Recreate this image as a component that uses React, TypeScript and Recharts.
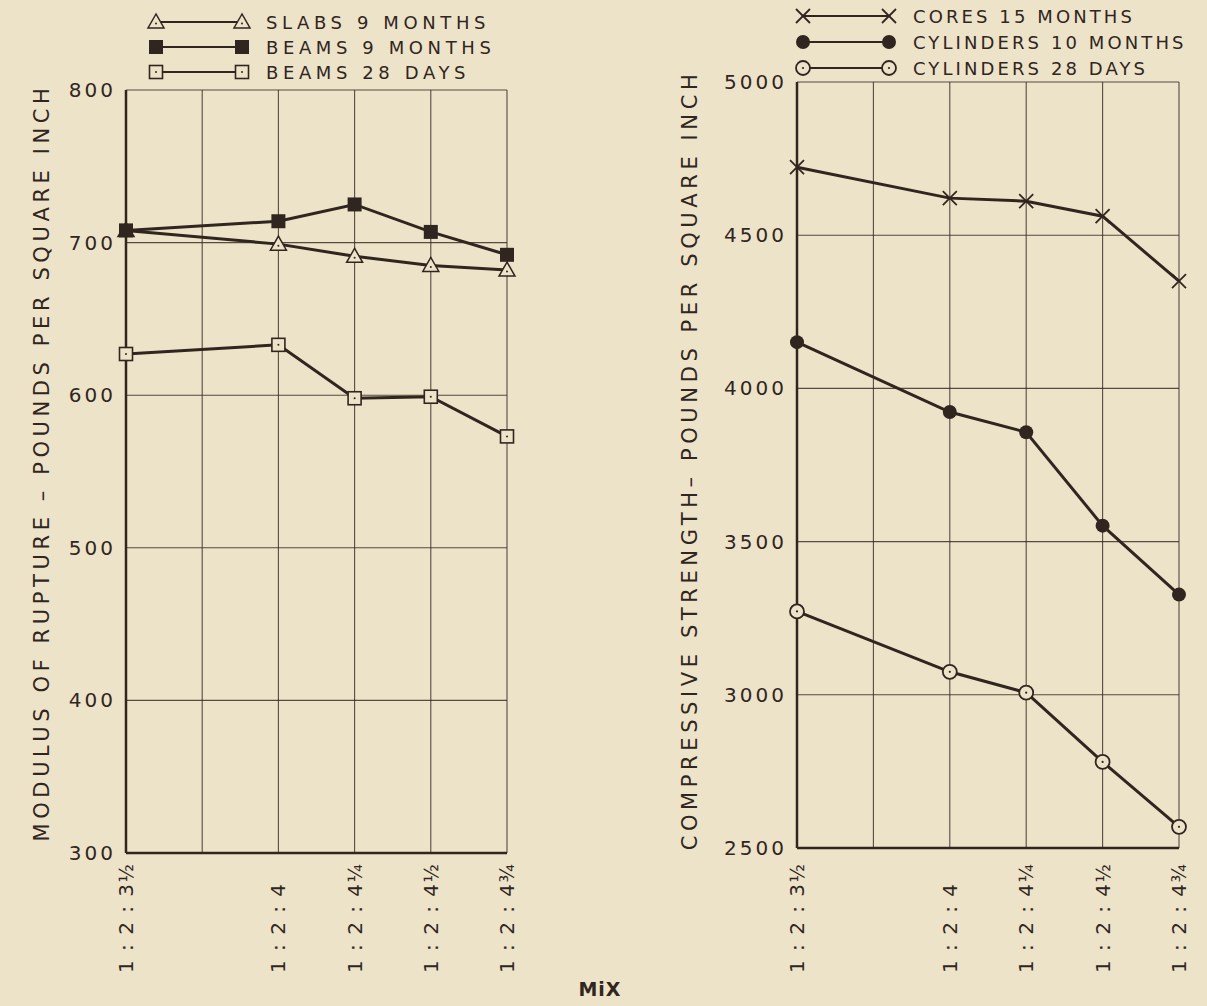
import { CartesianGrid, Line, LineChart, XAxis, YAxis } from 'recharts'

// mix proportions (1 : 2 : x) and their labels
const mixValues = [3.5, 4, 4.25, 4.5, 4.75]
const mixGrid = [3.5, 3.75, 4, 4.25, 4.5, 4.75]
const mixLabels: Record<number, [string, string]> = {
  3.5: ['1 : 2 : 3', '½'],
  4: ['1 : 2 : 4', ''],
  4.25: ['1 : 2 : 4', '¼'],
  4.5: ['1 : 2 : 4', '½'],
  4.75: ['1 : 2 : 4', '¾'],
}

// modulus of rupture, psi
const slabs9Months = [708, 699, 691, 685, 682]
const beams9Months = [708, 714, 725, 707, 692]
const beams28Days = [627, 633, 598, 599, 573]
const ruptureTicks = [300, 400, 500, 600, 700, 800]

// compressive strength, psi
const cores15Months = [4722, 4621, 4611, 4562, 4350]
const cylinders10Months = [4151, 3923, 3857, 3552, 3327]
const cylinders28Days = [3272, 3075, 3007, 2781, 2569]
const strengthTicks = [2500, 3000, 3500, 4000, 4500, 5000]

const BG = '#ede3c9'
const INK = '#30261f'
const FONT = '"DejaVu Sans", "Liberation Sans", sans-serif'

const ruptureData = mixValues.map((mix, i) => ({
  mix,
  slabs9: slabs9Months[i],
  beams9: beams9Months[i],
  beams28: beams28Days[i],
}))

const strengthData = mixValues.map((mix, i) => ({
  mix,
  cores15: cores15Months[i],
  cyl10: cylinders10Months[i],
  cyl28: cylinders28Days[i],
}))

type MarkerKind = 'triangle' | 'squareFilled' | 'squareOpen' | 'cross' | 'circleFilled' | 'circleOpen'

const Marker = ({ kind, cx, cy }: { kind: MarkerKind; cx: number; cy: number }) => {
  switch (kind) {
    case 'triangle':
      return (
        <g>
          <polygon
            points={`${cx},${cy - 8} ${cx - 8},${cy + 6} ${cx + 8},${cy + 6}`}
            fill={BG}
            stroke={INK}
            strokeWidth={1.5}
          />
          <circle cx={cx} cy={cy + 1.5} r={1} fill={INK} />
        </g>
      )
    case 'squareFilled':
      return <rect x={cx - 7} y={cy - 7} width={14} height={14} fill={INK} />
    case 'squareOpen':
      return (
        <g>
          <rect x={cx - 6.5} y={cy - 6.5} width={13} height={13} fill={BG} stroke={INK} strokeWidth={1.6} />
          <circle cx={cx} cy={cy} r={1} fill={INK} />
        </g>
      )
    case 'cross':
      return (
        <g stroke={INK} strokeWidth={1.8}>
          <line x1={cx - 7} y1={cy - 7} x2={cx + 7} y2={cy + 7} />
          <line x1={cx - 7} y1={cy + 7} x2={cx + 7} y2={cy - 7} />
        </g>
      )
    case 'circleFilled':
      return <circle cx={cx} cy={cy} r={7} fill={INK} />
    case 'circleOpen':
      return (
        <g>
          <circle cx={cx} cy={cy} r={7} fill={BG} stroke={INK} strokeWidth={1.8} />
          <circle cx={cx} cy={cy} r={1.1} fill={INK} />
        </g>
      )
  }
}

const dotOf = (kind: MarkerKind) => (props: any) => {
  const { cx, cy, index } = props
  if (cx == null || cy == null) return <g key={index} />
  return <Marker key={index} kind={kind} cx={cx} cy={cy} />
}

// rotated mix label, all labels share the same bottom end
const MixTick = (props: any) => {
  const { x, payload } = props
  const label = mixLabels[payload.value]
  if (!label) return <g />
  return (
    <text
      transform={`translate(${x + 7},973) rotate(-90)`}
      textAnchor="start"
      fontFamily={FONT}
      fontSize={20}
      fill={INK}
      letterSpacing={1.5}
    >
      {label[0]}
      <tspan fontSize={19}>{label[1]}</tspan>
    </text>
  )
}

const ValueTick = (props: any) => {
  const { x, y, payload } = props
  return (
    <text
      x={x}
      y={y}
      dy={7}
      textAnchor="end"
      fontFamily={FONT}
      fontSize={20}
      fill={INK}
      letterSpacing={3}
    >
      {payload.value}
    </text>
  )
}

const AxisTitle = (props: any) => {
  const { viewBox, text, dx, dy } = props
  const x = viewBox.x + dx
  const y = viewBox.y + viewBox.height / 2 + dy
  return (
    <text
      x={x}
      y={y}
      transform={`rotate(-90, ${x}, ${y})`}
      textAnchor="middle"
      dominantBaseline="central"
      fontFamily={FONT}
      fontSize={21}
      fill={INK}
      letterSpacing={4.6}
    >
      {text}
    </text>
  )
}

const LegendBlock = ({
  items,
  left,
  top,
  gap,
  spacing,
}: {
  items: { kind: MarkerKind; label: string }[]
  left: number
  top: number
  gap: number
  spacing: number
}) => (
  <svg width={420} height={80} style={{ position: 'absolute', left, top }}>
    {items.map((item, i) => {
      const cy = 10 + i * gap
      return (
        <g key={item.label}>
          <line x1={12} y1={cy} x2={98} y2={cy} stroke={INK} strokeWidth={2} />
          <Marker kind={item.kind} cx={12} cy={cy} />
          <Marker kind={item.kind} cx={98} cy={cy} />
          <text
            x={122}
            y={cy}
            dy={7}
            fontFamily={FONT}
            fontSize={18}
            fill={INK}
            letterSpacing={spacing}
          >
            {item.label}
          </text>
        </g>
      )
    })}
  </svg>
)

const lineProps = {
  type: 'linear' as const,
  stroke: INK,
  strokeWidth: 3,
  isAnimationActive: false,
  activeDot: false,
}

export default function App() {
  return (
    <div
      style={{
        position: 'relative',
        width: 1207,
        height: 1006,
        background: BG,
        overflow: 'hidden',
      }}
    >
      <style>{`body { margin: 0; }`}</style>

      <LegendBlock
        left={144}
        top={12}
        gap={25}
        spacing={4.6}
        items={[
          { kind: 'triangle', label: 'SLABS 9 MONTHS' },
          { kind: 'squareFilled', label: 'BEAMS 9 MONTHS' },
          { kind: 'squareOpen', label: 'BEAMS 28 DAYS' },
        ]}
      />
      <LegendBlock
        left={791}
        top={6}
        gap={26}
        spacing={3.1}
        items={[
          { kind: 'cross', label: 'CORES 15 MONTHS' },
          { kind: 'circleFilled', label: 'CYLINDERS 10 MONTHS' },
          { kind: 'circleOpen', label: 'CYLINDERS 28 DAYS' },
        ]}
      />

      <div style={{ position: 'absolute', left: 0, top: 0 }}>
        <LineChart
          width={560}
          height={1006}
          data={ruptureData}
          margin={{ top: 90, right: 53, left: 26, bottom: 33 }}
        >
          <CartesianGrid stroke={INK} strokeWidth={1.1} strokeOpacity={0.8} />
          <XAxis
            dataKey="mix"
            type="number"
            domain={[3.5, 4.75]}
            ticks={mixGrid}
            tick={<MixTick />}
            tickLine={false}
            height={120}
            axisLine={{ stroke: INK, strokeWidth: 2.5 }}
          />
          <YAxis
            type="number"
            domain={[300, 800]}
            ticks={ruptureTicks}
            tick={<ValueTick />}
            tickLine={false}
            tickMargin={4}
            width={100}
            axisLine={{ stroke: INK, strokeWidth: 2.5 }}
            label={
              <AxisTitle
                text="MODULUS OF RUPTURE – POUNDS PER SQUARE INCH"
                dx={16}
                dy={-9}
              />
            }
          />
          <Line {...lineProps} dataKey="beams28" dot={dotOf('squareOpen')} />
          <Line {...lineProps} dataKey="slabs9" dot={dotOf('triangle')} />
          <Line {...lineProps} dataKey="beams9" dot={dotOf('squareFilled')} />
        </LineChart>
      </div>

      <div style={{ position: 'absolute', left: 620, top: 0 }}>
        <LineChart
          width={587}
          height={1006}
          data={strengthData}
          margin={{ top: 82, right: 28, left: 77, bottom: 38 }}
        >
          <CartesianGrid stroke={INK} strokeWidth={1.1} strokeOpacity={0.8} />
          <XAxis
            dataKey="mix"
            type="number"
            domain={[3.5, 4.75]}
            ticks={mixGrid}
            tick={<MixTick />}
            tickLine={false}
            height={120}
            axisLine={{ stroke: INK, strokeWidth: 2.5 }}
          />
          <YAxis
            type="number"
            domain={[2500, 5000]}
            ticks={strengthTicks}
            tick={<ValueTick />}
            tickLine={false}
            tickMargin={4}
            width={100}
            axisLine={{ stroke: INK, strokeWidth: 2.5 }}
            label={
              <AxisTitle
                text="COMPRESSIVE STRENGTH– POUNDS PER SQUARE INCH"
                dx={-7}
                dy={-5}
              />
            }
          />
          <Line {...lineProps} dataKey="cyl28" dot={dotOf('circleOpen')} />
          <Line {...lineProps} dataKey="cyl10" dot={dotOf('circleFilled')} />
          <Line {...lineProps} dataKey="cores15" dot={dotOf('cross')} />
        </LineChart>
      </div>

      <div
        style={{
          position: 'absolute',
          left: 560,
          top: 978,
          width: 80,
          textAlign: 'center',
          fontFamily: FONT,
          fontSize: 19,
          fontWeight: 'bold',
          letterSpacing: 1,
          color: INK,
        }}
      >
        MiX
      </div>
    </div>
  )
}
